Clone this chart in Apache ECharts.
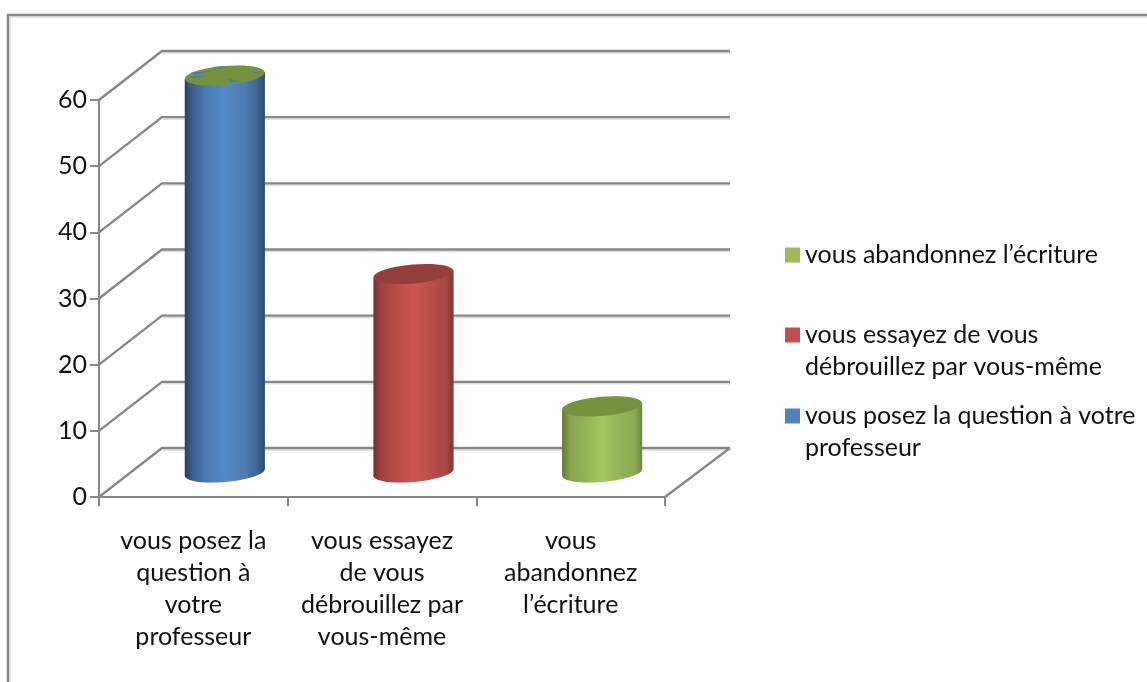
<!DOCTYPE html>
<html>
<head>
<meta charset="utf-8">
<style>html,body{margin:0;padding:0;background:#fff}#c{width:1147px;height:682px}</style>
<script src="https://cdn.jsdelivr.net/npm/echarts@6/dist/echarts.min.js"></script>
</head>
<body>
<div id="c"></div>
<script>
// ---- data ----
const categories = ['vous posez la\nquestion à\nvotre\nprofesseur', 'vous essayez\nde vous\ndébrouillez par\nvous-même', 'vous\nabandonnez\nl’écriture'];
const seriesNames = ['vous posez la question à votre\nprofesseur', 'vous essayez de vous\ndébrouillez par vous-même', 'vous abandonnez l’écriture'];
const values = [60, 30, 10];
const yTicks = [0, 10, 20, 30, 40, 50, 60];
const colors = ['#4F81BD', '#C0504D', '#9BBB59'];
const capColors = ['#76923C', '#943E3C', '#76923C'];
const edgeShade = [0.5, 0.6, 0.64];

// ---- style ----
const FONT = 'Lato';
const FS = 25;
const GREY = '#868686';
const DX = 63, DY = -49;
const TILT = 0.085;

function shade(hex, k) {
  const n = parseInt(hex.slice(1), 16);
  const f = v => Math.max(0, Math.min(255, Math.round(v * k)));
  return 'rgb(' + f(n >> 16) + ',' + f((n >> 8) & 255) + ',' + f(n & 255) + ')';
}
function sideFill(i) {
  const hex = colors[i], e = edgeShade[i];
  return {
    type: 'linear', x: 0, y: 0, x2: 1, y2: 0,
    colorStops: [
      { offset: 0, color: shade(hex, e) },
      { offset: 0.1, color: shade(hex, e + 0.24) },
      { offset: 0.25, color: shade(hex, 0.94) },
      { offset: 0.5, color: shade(hex, 1.06) },
      { offset: 0.75, color: shade(hex, 0.95) },
      { offset: 0.9, color: shade(hex, e + 0.28) },
      { offset: 1, color: shade(hex, e + 0.07) }
    ]
  };
}
function wallItem(params, api) {
  const cs = params.coordSys;
  const y = api.coord([0, api.value(1)])[1];
  const x0 = cs.x, x1 = cs.x + cs.width;
  const xEnd = x1 + DX + 2;
  const line = (pts, stroke, w) => ({ type: 'polyline', shape: { points: pts }, style: { fill: null, stroke: stroke, lineWidth: w } });
  const kids = [
    line([[x0 + DX + 1, y + DY + 2], [xEnd, y + DY + 2]], '#dedede', 1.5),
    line([[x0, y], [x0 + DX, y + DY], [xEnd, y + DY]], GREY, 2.4)
  ];
  if (api.value(1) === 0) kids.push(line([[x1, y], [xEnd, y + DY]], GREY, 2.4));
  return { type: 'group', children: kids };
}
const slivers = [
  [[-34, -3], [-10, -5], [-30, -1]],
  [[-14, -8.6], [2, -9.4], [-6, -6.5]],
  [[3, 3], [14, 6], [6, 7.5]],
  [[26, -4.5], [38, -2], [30, -2]],
  [[-37, 1], [-14, 0], [-30, 2.5]]
];
function cylinderItem(idx) {
  return function (params, api) {
    const v = api.value(1);
    const top = api.coord([api.value(0), v]);
    const base = api.coord([api.value(0), 0]);
    const rx = api.size([1, 0])[0] * 0.2125;
    const ry = 9.5;
    const cx = top[0] + DX / 2;
    const ty = top[1] + DY / 2, by = base[1] + DY / 2;
    const off = rx * Math.sin(TILT);
    const ell = (cy, fill) => ({
      type: 'ellipse',
      shape: { cx: cx, cy: cy, rx: rx, ry: ry },
      originX: cx, originY: cy, rotation: TILT,
      style: { fill: fill }
    });
    const kids = [
      ell(by, sideFill(idx)),
      { type: 'polygon', shape: { points: [[cx - rx, ty + off], [cx + rx, ty - off], [cx + rx, by - off], [cx - rx, by + off]] }, style: { fill: sideFill(idx) } },
      ell(ty, capColors[idx])
    ];
    if (idx === 0) {
      slivers.forEach(s => kids.push({
        type: 'polygon',
        shape: { points: s.map(p => [cx + p[0], ty + p[1]]) },
        style: { fill: shade(colors[0], 0.95) }
      }));
    }
    return { type: 'group', children: kids };
  };
}

const legendTops = [400, 319, 239];
const option = {
  animation: false,
  backgroundColor: '#fff',
  textStyle: { fontFamily: FONT },
  grid: { left: 99, right: 482, top: 100, bottom: 185, containLabel: false },
  xAxis: {
    type: 'category',
    data: categories,
    axisLine: { lineStyle: { color: GREY, width: 2 } },
    axisTick: { show: true, alignWithLabel: false, length: 9, lineStyle: { color: GREY, width: 2 } },
    axisLabel: { margin: 28, fontSize: FS, lineHeight: 32, color: '#111', fontFamily: FONT, interval: 0 },
    splitLine: { show: false }
  },
  yAxis: {
    type: 'value', min: 0, max: 60, interval: 10,
    axisLine: { show: true, lineStyle: { color: GREY, width: 2 } },
    axisTick: { show: true, length: 9, lineStyle: { color: GREY, width: 2 } },
    axisLabel: { margin: 12, fontSize: FS, color: '#111', fontFamily: FONT, padding: [4, 0, 0, 0] },
    splitLine: { show: false }
  },
  legend: seriesNames.map((n, i) => ({
    show: true,
    left: 785,
    top: legendTops[i],
    orient: 'vertical',
    padding: 0,
    selectedMode: false,
    itemWidth: 15,
    itemHeight: n.indexOf('\n') >= 0 ? 47 : 15,
    icon: n.indexOf('\n') >= 0 ? 'path://M0 0h15v15h-15z M0 46.95h0.05v0.05h-0.05z' : 'rect',
    data: [{ name: n, itemStyle: { color: colors[i] } }],
    textStyle: { fontSize: FS, lineHeight: 32, color: '#111', fontFamily: FONT }
  })),
  graphic: [
    { type: 'rect', silent: true, z: -10, shape: { x: 10, y: 17, width: 1300, height: 900 }, style: { fill: null, stroke: '#d4d4d4', lineWidth: 1 } },
    { type: 'rect', silent: true, z: -9, shape: { x: 8, y: 15, width: 1300, height: 900 }, style: { fill: null, stroke: GREY, lineWidth: 2.4 } }
  ],
  series: [
    { type: 'custom', name: 'grille', silent: true, z: 1, renderItem: wallItem, data: yTicks.map(t => [0, t]), encode: { x: 0, y: 1 } }
  ].concat(seriesNames.map((n, i) => ({
    type: 'custom', name: n, z: 2 + i,
    itemStyle: { color: colors[i] },
    renderItem: cylinderItem(i),
    data: [[i, values[i]]],
    encode: { x: 0, y: 1 }
  })))
};
echarts.init(document.getElementById('c')).setOption(option);
</script>
</body>
</html>
